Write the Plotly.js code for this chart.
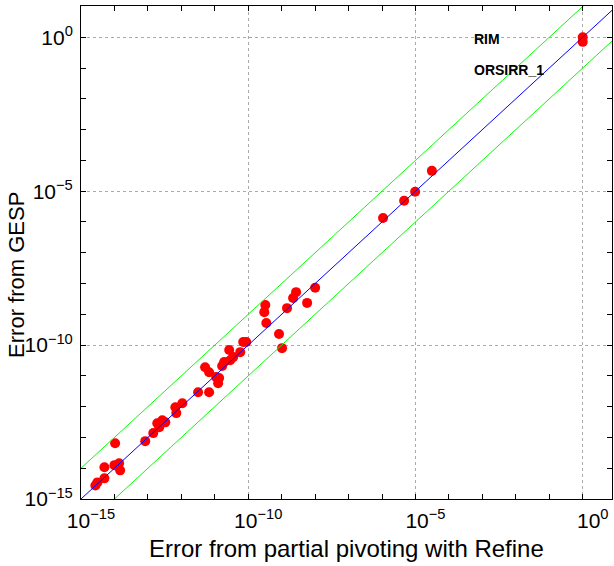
<!DOCTYPE html>
<html>
<head>
<meta charset="utf-8">
<script src="https://cdn.plot.ly/plotly-3.0.1.min.js"></script>
<style>html,body{margin:0;padding:0;background:#fff;}#chart{width:614px;height:566px;}</style>
</head>
<body>
<div id="chart"></div>
<script>
// log10 of errors
const logErrPartialPivoting = [
  -14.57,-14.51,-14.30,-14.30,-13.98,-14.00,-13.86,-13.83,-13.08,-12.84,
  -12.72,-12.57,-12.48,-12.66,-12.18,-11.97,-12.15,-11.50,-11.17,-11.29,
  -11.17,-10.96,-10.87,-10.90,-10.78,-10.72,-10.54,-10.45,-10.24,-10.57,
  -10.15,-10.06,-9.46,-9.52,-9.49,-9.08,-8.99,-8.84,-8.66,-8.57,
  -8.24,-8.00,-5.97,-5.34,-5.01,-4.51,0.00,0.00
];
const logErrGESP = [
  -14.56,-14.46,-14.33,-13.97,-13.19,-13.90,-13.84,-14.07,-13.12,-12.86,
  -12.54,-12.44,-12.51,-12.67,-12.02,-11.89,-12.21,-11.53,-11.53,-10.72,
  -10.88,-11.04,-11.07,-11.24,-10.68,-10.55,-10.49,-10.39,-10.23,-10.16,
  -9.90,-9.90,-9.28,-8.93,-8.70,-9.64,-10.10,-8.80,-8.47,-8.28,
  -8.63,-8.14,-5.87,-5.31,-5.02,-4.34,0.00,-0.15
];
const refLineX = [1e-16, 1e2];
const refFactors = {diag: 1, upper: 10, lower: 0.1};
const majorTickExp = [-15, -10, -5, 0];
const minorTickExp = [-15,-14,-13,-12,-11,-10,-9,-8,-7,-6,-5,-4,-3,-2,-1,0,1];
const labelNames = ["RIM", "ORSIRR_1"];
const labelLogX = [-3.31, -3.31];
const labelLogY = [-0.07, -1.08];
const xTitle = 'Error from partial pivoting with Refine';
const yTitle = 'Error from GESP';

const xs = logErrPartialPivoting.map(v => Math.pow(10, v));
const ys = logErrGESP.map(v => Math.pow(10, v));
const majorVals = majorTickExp.map(e => Math.pow(10, e));
const majorText = majorTickExp.map(e => '10<sup>' + (e < 0 ? '\u2212' + (-e) : e) + '</sup>');
const minorVals = minorTickExp.map(e => Math.pow(10, e));

const font = 'Liberation Sans, Arial, Helvetica, sans-serif';

const traces = [
  {x: xs, y: ys, mode: 'markers', type: 'scatter',
   marker: {color: '#ff0000', size: 10, line: {width: 0}}, hoverinfo: 'x+y'},
  {x: refLineX, y: refLineX.map(v => v * refFactors.diag), mode: 'lines',
   line: {color: '#0000ff', width: 1}},
  {x: refLineX, y: refLineX.map(v => v * refFactors.upper), mode: 'lines',
   line: {color: '#00ff00', width: 1}},
  {x: refLineX, y: refLineX.map(v => v * refFactors.lower), mode: 'lines',
   line: {color: '#00ff00', width: 1}}
];

function axis(range, standoff, shift) {
  return {
    type: 'log', range: range, autorange: false,
    tickmode: 'array', tickvals: majorVals, ticktext: majorText,
    ticks: 'inside', ticklen: 5, tickwidth: 1, tickcolor: '#000',
    ticklabelstandoff: standoff, ticklabelshift: shift,
    showline: true, linecolor: '#000', linewidth: 1, mirror: 'ticks',
    showgrid: true, gridcolor: '#aaaaaa', griddash: 'dot', gridwidth: 1,
    zeroline: false,
    tickfont: {family: font, size: 21, color: '#000'},
    minor: {tickmode: 'array', tickvals: minorVals, ticks: 'inside', ticklen: 5,
            tickcolor: '#000', showgrid: false}
  };
}

const layout = {
  width: 614, height: 566,
  margin: {l: 81, r: 2, t: 6, b: 67},
  paper_bgcolor: '#fff', plot_bgcolor: '#fff',
  showlegend: false,
  xaxis: axis([-15, 0.875], 3, 10),
  yaxis: axis([-15, 1.015], 3, 0),
  annotations: labelNames.map((t, i) => ({
    text: '<b>' + t + '</b>', x: labelLogX[i], y: labelLogY[i],
    xref: 'x', yref: 'y', xanchor: 'left', yanchor: 'middle', showarrow: false,
    font: {family: font, size: 14, color: '#000'}
  })).concat([
    {text: xTitle, xref: 'paper', yref: 'paper', x: 0.5, y: -0.1,
     xanchor: 'center', yanchor: 'middle', showarrow: false,
     font: {family: font, size: 24, color: '#000'}},
    {text: yTitle, xref: 'paper', yref: 'paper', x: -0.122, y: 0.455, textangle: -90,
     xanchor: 'center', yanchor: 'middle', showarrow: false,
     font: {family: font, size: 22, color: '#000'}}
  ])
};

Plotly.newPlot('chart', traces, layout, {displayModeBar: false, staticPlot: true});
</script>
</body>
</html>
